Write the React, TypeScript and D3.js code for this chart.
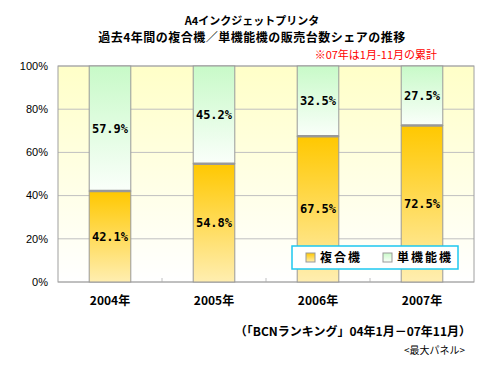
import React from 'react';
import * as d3 from 'd3';

const years = ['2004年', '2005年', '2006年', '2007年'];
const multi = [42.1, 54.8, 67.5, 72.5];
const single = [57.9, 45.2, 32.5, 27.5];
const yTicks = [0, 20, 40, 60, 80, 100];

const W = 500;
const H = 370;
const margin = { top: 66, right: 26, bottom: 88, left: 58 };
const FONT = '"Noto Sans CJK JP", "DejaVu Sans", sans-serif';

export default function App() {
  const iw = W - margin.left - margin.right;
  const ih = H - margin.top - margin.bottom;

  const x = d3.scaleBand<string>().domain(years).range([0, iw]).paddingInner(0.6).paddingOuter(0.3);
  const band = d3.scaleBand<string>().domain(years).range([0, iw]);
  const y = d3.scaleLinear().domain([0, 100]).range([ih, 0]);

  return (
    <svg width={W} height={H} style={{ position: 'absolute', left: 0, top: 0, fontFamily: FONT }}>
      <defs>
        <linearGradient id="bg" x1="0" y1="0" x2="0" y2="1">
          <stop offset="0%" stopColor="#ffffc8" />
          <stop offset="100%" stopColor="#ffffff" />
        </linearGradient>
        <linearGradient id="gMulti" x1="0" y1="0" x2="0" y2="1">
          <stop offset="0%" stopColor="#ffc800" />
          <stop offset="100%" stopColor="#ffeeb0" />
        </linearGradient>
        <linearGradient id="gSingle" x1="0" y1="0" x2="0" y2="1">
          <stop offset="0%" stopColor="#c8fac8" />
          <stop offset="100%" stopColor="#fafffa" />
        </linearGradient>
      </defs>

      {/* titles */}
      <text x={252} y={25} textAnchor="middle" fontSize={11} fontWeight="bold">A4インクジェットプリンタ</text>
      <text x={252} y={42} textAnchor="middle" fontSize={12} fontWeight="bold" letterSpacing={0.5}>過去4年間の複合機／単機能機の販売台数シェアの推移</text>
      <text x={437} y={59} textAnchor="end" fontSize={11} fill="#ff0000">※07年は1月-11月の累計</text>

      <g transform={`translate(${margin.left},${margin.top})`}>
        <rect x={0} y={0} width={iw} height={ih} fill="url(#bg)" />
        {yTicks.map(t => (
          <g key={t}>
            <line x1={0} x2={iw} y1={y(t)} y2={y(t)} stroke="#c0c0c0" />
            <text x={-10} y={y(t)} dy="0.35em" textAnchor="end" fontSize={11} fill="#000" fontFamily="'Liberation Sans', Arial, sans-serif">{t}%</text>
          </g>
        ))}
        {years.slice(1).map(yr => (
          <line key={yr} x1={band(yr)!} x2={band(yr)!} y1={ih} y2={ih - 4} stroke="#c0c0c0" />
        ))}
        <rect x={0} y={0} width={iw} height={ih} fill="none" stroke="#a0a0a0" />

        {years.map((yr, i) => {
          const bx = x(yr)!;
          const bw = x.bandwidth();
          const yMid = y(multi[i]);
          return (
            <g key={yr}>
              <rect x={bx} y={yMid} width={bw} height={ih - yMid} fill="url(#gMulti)" stroke="#999" />
              <rect x={bx} y={y(100)} width={bw} height={yMid - y(100)} fill="url(#gSingle)" stroke="#999" />
              <line x1={bx} x2={bx + bw} y1={yMid} y2={yMid} stroke="#999" strokeWidth={2.5} />
              <text x={bx + bw / 2} y={(yMid + ih) / 2} dy="0.35em" textAnchor="middle" fontSize={12} fontWeight="bold" fontFamily="'DejaVu Sans Mono', monospace">{multi[i].toFixed(1)}%</text>
              <text x={bx + bw / 2} y={(yMid + y(100)) / 2} dy="0.35em" textAnchor="middle" fontSize={12} fontWeight="bold" fontFamily="'DejaVu Sans Mono', monospace">{single[i].toFixed(1)}%</text>
              <text x={bx + bw / 2} y={ih + 23} textAnchor="middle" fontSize={12} fontWeight="bold">{yr}</text>
            </g>
          );
        })}

        {/* legend */}
        <g transform={`translate(${234},${180})`}>
          <rect x={0} y={0} width={166} height={23} fill="#fff" stroke="#1ec8f0" strokeWidth={1.5} />
          <rect x={14} y={7} width={9} height={9} fill="url(#gMulti)" stroke="#999" />
          <text x={28} y={11.5} dy="0.35em" fontSize={12} fontWeight="bold" letterSpacing={2}>複合機</text>
          <rect x={91} y={7} width={9} height={9} fill="url(#gSingle)" stroke="#999" />
          <text x={105} y={11.5} dy="0.35em" fontSize={12} fontWeight="bold" letterSpacing={2}>単機能機</text>
        </g>
      </g>

      <text x={471} y={336} textAnchor="end" fontSize={12} fontWeight="bold">（「BCNランキング」04年1月－07年11月）</text>
      <text x={465} y={354} textAnchor="end" fontSize={10}>&lt;最大パネル&gt;</text>
    </svg>
  );
}
